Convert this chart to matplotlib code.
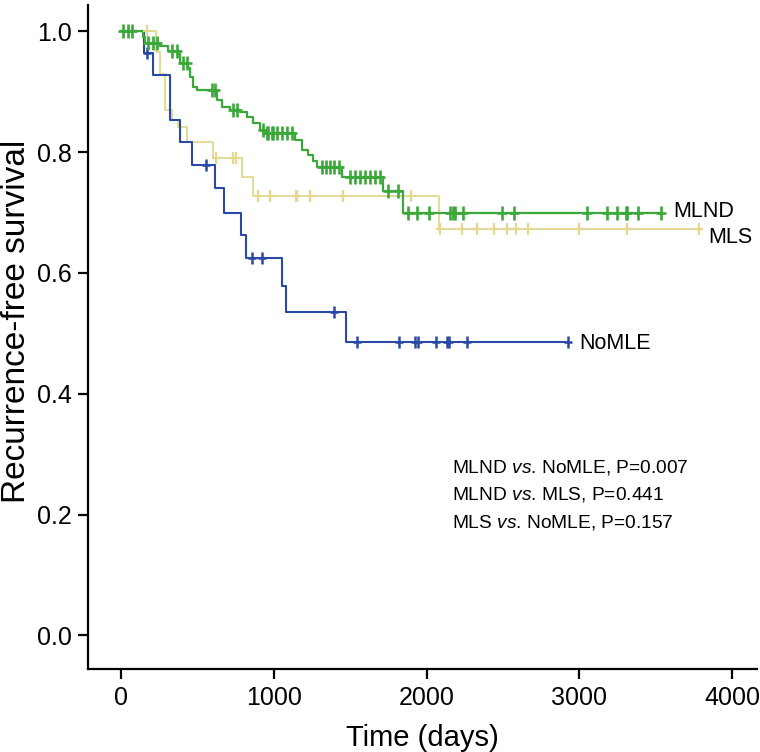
"""
Kaplan-Meier style recurrence-free survival curves for three groups.
"""

import matplotlib
matplotlib.use('Agg')
import matplotlib.pyplot as plt
import numpy as np

# MLND group: event times (days), survival after each event, censor times
mlndTimes = [144, 157, 255, 308, 373, 386, 439, 452, 471, 498, 628, 661, 714, 779, 825,
             864, 910, 943, 1139, 1185, 1224, 1257, 1283, 1447, 1715, 1846]
mlndSurv = [0.99, 0.98, 0.975, 0.967, 0.962, 0.947, 0.939, 0.924, 0.907, 0.902, 0.886, 0.874,
            0.869, 0.866, 0.858, 0.848, 0.836, 0.831, 0.820, 0.803, 0.795, 0.786, 0.775,
            0.758, 0.735, 0.700]
mlndCensor = [13, 46, 72, 177, 209, 236, 334, 367, 406, 432, 596, 615, 733, 759, 930, 956,
              962, 989, 995, 1021, 1054, 1087, 1119, 1316, 1342, 1368, 1394, 1427, 1499,
              1532, 1565, 1597, 1630, 1663, 1696, 1748, 1813, 1879, 1938, 2016, 2154, 2173,
              2187, 2239, 2494, 2573, 3051, 3182, 3247, 3306, 3313, 3385, 3535]

# MLS group
mlsTimes = [229, 255, 288, 334, 373, 432, 602, 792, 864, 2082]
mlsSurv = [0.965, 0.930, 0.869, 0.853, 0.841, 0.816, 0.791, 0.758, 0.728, 0.672]
mlsCensor = [170, 622, 733, 753, 897, 975, 1146, 1152, 1237, 1453, 1899, 2088, 2232, 2331,
             2442, 2527, 2586, 2665, 2998, 3313, 3784]

# NoMLE group
nomleTimes = [150, 210, 321, 386, 465, 615, 674, 786, 818, 1054, 1080, 1473]
nomleSurv = [0.964, 0.927, 0.853, 0.816, 0.778, 0.740, 0.700, 0.662, 0.624, 0.579, 0.535, 0.485]
nomleCensor = [170, 556, 858, 923, 1394, 1545, 1820, 1925, 1944, 2062, 2134, 2147, 2265, 2926]

groupNames = ['MLND', 'MLS', 'NoMLE']
groupColors = ['#3ba83a', '#e3d88e', '#2a48a6']
groupWidths = [1.6, 1.3, 1.5]
pValueLines = ['MLND $\\it{vs}$. NoMLE, P=0.007',
               'MLND $\\it{vs}$. MLS, P=0.441',
               'MLS $\\it{vs}$. NoMLE, P=0.157']

plt.rcParams['font.family'] = ['Liberation Sans', 'DejaVu Sans']
plt.rcParams['mathtext.fontset'] = 'custom'
plt.rcParams['mathtext.it'] = 'Liberation Sans:italic'
plt.rcParams['mathtext.rm'] = 'Liberation Sans'


def stepValue(times, surv, t):
    """Survival level of the step curve at time t."""
    levels = [1.0] + list(surv)
    return levels[np.searchsorted(times, t, side='right')]


def drawGroup(ax, times, surv, censor, color, lw, msize):
    endTime = max(max(times), max(censor))
    xs = [0] + list(times) + [endTime]
    ys = [1.0] + list(surv) + [surv[-1]]
    ax.step(xs, ys, where='post', color=color, linewidth=lw, zorder=2)
    cy = [stepValue(times, surv, c) for c in censor]
    # '+' censor marks, drawn as a vertical and a short horizontal stroke
    ax.plot(censor, cy, linestyle='none', marker='|', markersize=msize,
            markeredgewidth=lw + 0.3, color=color, zorder=3)
    ax.plot(censor, cy, linestyle='none', marker='_', markersize=msize * 0.7,
            markeredgewidth=lw + 0.3, color=color, zorder=3)
    return endTime


fig = plt.figure(figsize=(7.6, 7.52), dpi=100)
ax = fig.add_axes([0.116, 0.110, 0.880, 0.883])

allData = [(mlndTimes, mlndSurv, mlndCensor),
           (mlsTimes, mlsSurv, mlsCensor),
           (nomleTimes, nomleSurv, nomleCensor)]
markerSizes = [10, 9, 9]
# draw yellow first, then blue, then green on top
for idx in [1, 2, 0]:
    t, s, c = allData[idx]
    drawGroup(ax, t, s, c, groupColors[idx], groupWidths[idx], markerSizes[idx])

# curve end labels
ax.text(3614, 0.702, 'MLND', fontsize=15.5, va='center', ha='left')
ax.text(3843, 0.659, 'MLS', fontsize=15.5, va='center', ha='left')
ax.text(2998, 0.483, 'NoMLE', fontsize=15.5, va='center', ha='left')

for i, line in enumerate(pValueLines):
    ax.text(2167, 0.278 - i * 0.0455, line, fontsize=13.8, va='center', ha='left')

ax.set_xlim(-216, 4164)
ax.set_ylim(-0.056, 1.043)
ax.set_xticks([0, 1000, 2000, 3000, 4000])
ax.set_yticks([0.0, 0.2, 0.4, 0.6, 0.8, 1.0])
ax.set_yticklabels(['0.0', '0.2', '0.4', '0.6', '0.8', '1.0'])

for side in ['top', 'right']:
    ax.spines[side].set_visible(False)
for side in ['left', 'bottom']:
    ax.spines[side].set_linewidth(1.6)

ax.tick_params(axis='both', length=7, width=1.6, labelsize=18, pad=5)

ax.set_xlabel('Time (days)', fontsize=21, labelpad=10)
ax.set_ylabel('Recurrence-free survival', fontsize=24)
ax.yaxis.set_label_coords(-0.084, 0.524)

fig.savefig('out.png', dpi=100)
